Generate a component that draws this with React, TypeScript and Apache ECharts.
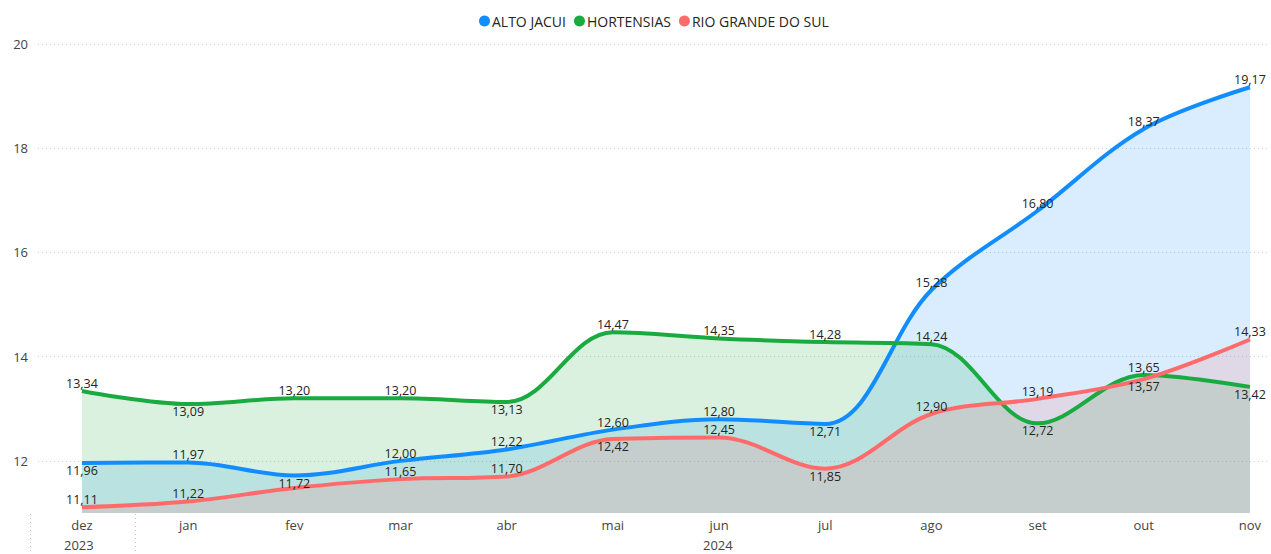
import React, { useEffect, useRef } from "react";
import * as echarts from "echarts";

const months = ["dez", "jan", "fev", "mar", "abr", "mai", "jun", "jul", "ago", "set", "out", "nov"];
const yTicks = [12, 14, 16, 18, 20];

const altoJacui = [11.96, 11.97, 11.72, 12.0, 12.22, 12.6, 12.8, 12.71, 15.28, 16.8, 18.37, 19.17];
const hortensias = [13.34, 13.09, 13.2, 13.2, 13.13, 14.47, 14.35, 14.28, 14.24, 12.72, 13.65, 13.42];
const rioGrande = [11.11, 11.22, 11.48, 11.65, 11.7, 12.42, 12.45, 11.85, 12.9, 13.19, 13.57, 14.33];

const altoPos = ["bottom", "top", "bottom", "top", "top", "top", "top", "bottom", "top", "top", "top", "top"];
const hortPos = ["top", "bottom", "top", "top", "bottom", "top", "top", "top", "top", "bottom", "top", "bottom"];
const rioPos = ["top", "top", "none", "top", "top", "bottom", "top", "bottom", "top", "top", "bottom", "top"];

const FONT = "'Open Sans', 'Noto Sans', sans-serif";

function makeSeries(name: string, values: number[], positions: string[], color: string) {
  return {
    name,
    type: "line",
    smooth: 0.35,
    showSymbol: true,
    symbol: "circle",
    symbolSize: 0.1,
    lineStyle: { width: 4, color },
    itemStyle: { color },
    areaStyle: { color, opacity: 0.16, origin: "start" },
    data: values.map((v, i) => ({
      value: [i, v],
      label: {
        show: positions[i] !== "none",
        position: positions[i] === "none" ? "top" : positions[i],
        distance: 1,
      },
    })),
    label: {
      show: true,
      fontFamily: FONT,
      fontSize: 12.5,
      color: "#252423",
      formatter: (p: any) => p.value[1].toFixed(2).replace(".", ","),
    },
    labelLayout: { hideOverlap: false },
  };
}

export default function App() {
  const ref = useRef<HTMLDivElement>(null);
  useEffect(() => {
    if (!ref.current) return;
    const chart = echarts.init(ref.current, undefined, { renderer: "svg" });
    chart.setOption({
      animation: false,
      textStyle: { fontFamily: FONT },
      legend: {
        top: 9,
        left: 474,
        icon: "circle",
        itemWidth: 11,
        itemHeight: 11,
        itemGap: 8,
        textStyle: { fontFamily: FONT, fontSize: 14, color: "#252423", padding: [0, 0, 0, -3] },
        data: ["ALTO JACUI", "HORTENSIAS", "RIO GRANDE DO SUL"],
      },
      grid: { left: 38, right: 3, top: 44, bottom: 41, containLabel: false },
      xAxis: {
        type: "value",
        min: -0.414,
        max: 11.17,
        axisLine: { show: false },
        axisTick: { show: false, customValues: months.map((_, i) => i) },
        splitLine: { show: false },
        axisLabel: {
          customValues: months.map((_, i) => i),
          formatter: (v: number) => months[Math.round(v)] ?? "",
          fontFamily: FONT,
          fontSize: 13,
          color: "#444444",
          margin: 5,
        },
      },
      yAxis: {
        type: "value",
        min: 11,
        max: 20,
        axisLine: { show: false },
        axisTick: { show: false, customValues: yTicks },
        axisLabel: {
          customValues: yTicks,
          fontFamily: FONT,
          fontSize: 13,
          color: "#444444",
          margin: 10,
        },
        splitLine: { show: true, lineStyle: { color: "#d0d0d0", type: [1, 3], width: 1 } },
      },
      graphic: [
        {
          type: "text",
          left: 64,
          top: 538,
          style: { text: "2023", font: `13px ${FONT}`, fill: "#444444" },
        },
        {
          type: "text",
          left: 703,
          top: 538,
          style: { text: "2024", font: `13px ${FONT}`, fill: "#444444" },
        },
        {
          type: "line",
          shape: { x1: 30.5, y1: 514, x2: 30.5, y2: 554 },
          style: { stroke: "#c8c8c8", lineWidth: 1, lineDash: [1, 3] },
        },
        {
          type: "line",
          shape: { x1: 135.5, y1: 514, x2: 135.5, y2: 554 },
          style: { stroke: "#c8c8c8", lineWidth: 1, lineDash: [1, 3] },
        },
      ],
      series: [
        makeSeries("ALTO JACUI", altoJacui, altoPos, "#118DFF"),
        makeSeries("HORTENSIAS", hortensias, hortPos, "#1AAB40"),
        makeSeries("RIO GRANDE DO SUL", rioGrande, rioPos, "#FF6B6B"),
      ],
    });
    return () => chart.dispose();
  }, []);
  return <div ref={ref} style={{ width: 1271, height: 554, position: "absolute", left: 0, top: 0 }} />;
}
